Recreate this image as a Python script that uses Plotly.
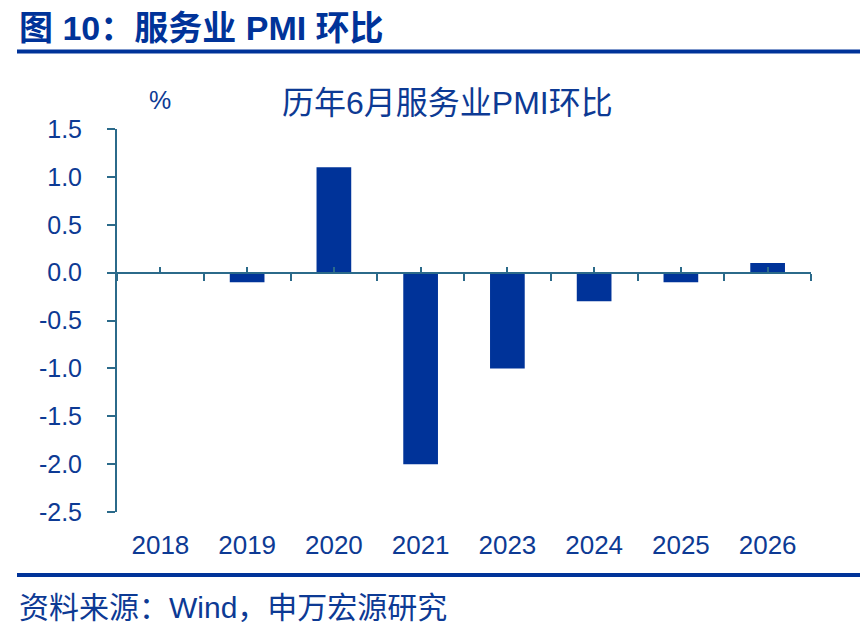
import plotly.graph_objects as go

categories = ["2018", "2019", "2020", "2021", "2023", "2024", "2025", "2026"]
values = [0.0, -0.1, 1.1, -2.0, -1.0, -0.3, -0.1, 0.1]
y_ticks = [1.5, 1.0, 0.5, 0.0, -0.5, -1.0, -1.5, -2.0, -2.5]

W, H = 860, 632
ML, MR, MT, MB = 117, 49, 129, 120
PW, PH = W - ML - MR, H - MT - MB

def px(x):
    return (x - ML) / PW

def py(y):
    return (H - MB - y) / PH

BLUE = "#003399"
TXT = "#0D3A94"
AX = "#2B6A8A"
CJK = "Liberation Sans, Noto Sans CJK SC, sans-serif"

n = len(categories)
xpos = list(range(n))

fig = go.Figure()
fig.add_trace(go.Bar(x=xpos, y=values, marker_color=BLUE,
                     marker_line_width=0, width=0.4, showlegend=False, hoverinfo="skip"))
# invisible carriers so the decorative zero axes are drawn
for ax in ("x2", "x3"):
    fig.add_trace(go.Scatter(x=xpos, y=values, xaxis=ax, yaxis="y", mode="markers",
                             marker=dict(opacity=0), showlegend=False, hoverinfo="skip"))

ymin, ymax = -2.5, 1.5
zero_frac = (0 - ymin) / (ymax - ymin)

fig.update_layout(
    width=W, height=H, margin=dict(l=ML, r=MR, t=MT, b=MB),
    paper_bgcolor="white", plot_bgcolor="white",
    font=dict(family=CJK, color=TXT),
    xaxis=dict(range=[-0.5, n - 0.5], tickmode="array",
               tickvals=xpos, ticktext=categories,
               showline=False, ticks="", showgrid=False, zeroline=False,
               tickfont=dict(size=26, color=TXT), ticklabelstandoff=15),
    xaxis2=dict(overlaying="x", anchor="free", position=zero_frac,
                range=[-0.5, n - 0.5], tickmode="linear", tick0=-0.5, dtick=1,
                ticks="outside", ticklen=7, tickwidth=2, tickcolor=AX,
                showline=True, linecolor=AX, linewidth=2,
                showticklabels=False, showgrid=False, zeroline=False),
    xaxis3=dict(overlaying="x", anchor="free", position=zero_frac,
                range=[-0.5, n - 0.5], tickmode="linear", tick0=0, dtick=1,
                ticks="inside", ticklen=6, tickwidth=2, tickcolor=AX,
                showline=False, showticklabels=False, showgrid=False, zeroline=False),
    yaxis=dict(range=[ymin, ymax], tickmode="array", tickvals=y_ticks,
               ticktext=[f"{v:.1f}" for v in y_ticks],
               ticks="outside", ticklen=8, tickwidth=2, tickcolor=AX,
               showline=True, linecolor=AX, linewidth=2, showgrid=False, zeroline=False,
               tickfont=dict(size=25, color=TXT), ticklabelstandoff=20),
)

fig.add_annotation(text="历年6月服务业PMI环比", x=px(447), y=py(103), xref="paper", yref="paper",
                   showarrow=False, font=dict(size=32, color=TXT), xanchor="center", yanchor="middle")
fig.add_annotation(text="%", x=px(160), y=py(100), xref="paper", yref="paper",
                   showarrow=False, font=dict(size=25, color=TXT), xanchor="center", yanchor="middle")
fig.add_annotation(text="<b>图 10：服务业 PMI 环比</b>", x=px(17), y=py(28), xref="paper", yref="paper",
                   showarrow=False, font=dict(size=34, color=BLUE), xanchor="left", yanchor="middle")
fig.add_annotation(text="资料来源：Wind，申万宏源研究", x=px(17), y=py(607), xref="paper", yref="paper",
                   showarrow=False, font=dict(size=30, color=TXT), xanchor="left", yanchor="middle")

fig.add_shape(type="line", xref="paper", yref="paper", x0=px(17), x1=px(860), y0=py(51.5), y1=py(51.5),
              line=dict(color=BLUE, width=4))
fig.add_shape(type="line", xref="paper", yref="paper", x0=px(17), x1=px(860), y0=py(575), y1=py(575),
              line=dict(color=BLUE, width=4))

fig.write_html("out.html")
